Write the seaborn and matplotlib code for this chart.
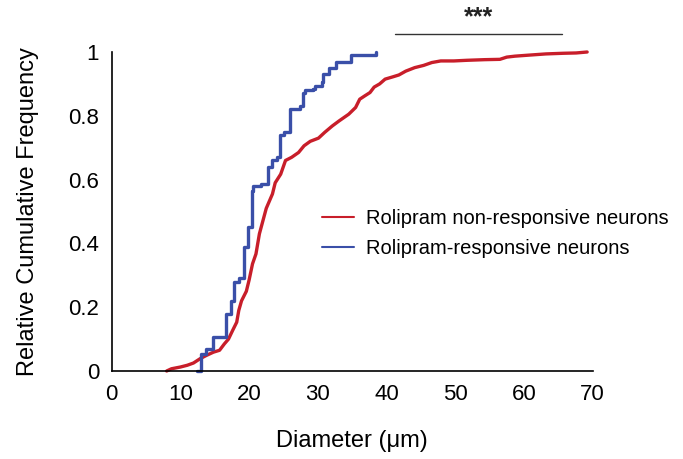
import numpy as np
import pandas as pd
import matplotlib
matplotlib.use("Agg")
import matplotlib.pyplot as plt
import seaborn as sns

# cumulative frequency curves (diameter in um, fraction)
blue_x = [12.4, 13.0, 13.8, 14.8, 16.1, 16.6, 17.3, 17.8, 18.5, 19.2, 19.9, 20.4,
          20.6, 21.8, 22.7, 23.4, 24.0, 24.5, 25.1, 26.0, 27.4, 27.8, 28.2, 29.3,
          29.6, 30.6, 30.8, 31.7, 32.7, 34.8, 38.3, 38.5]
blue_y = [0.0, 0.054, 0.07, 0.106, 0.106, 0.18, 0.22, 0.28, 0.29, 0.39, 0.45, 0.565,
          0.58, 0.585, 0.64, 0.66, 0.67, 0.74, 0.75, 0.82, 0.83, 0.87, 0.88, 0.885,
          0.895, 0.905, 0.93, 0.95, 0.97, 0.99, 0.99, 1.0]

red_x = [8.0, 8.7, 10.0, 11.0, 11.9, 12.9, 13.8, 14.8, 15.7, 16.4, 17.0, 17.6,
         18.2, 18.5, 18.9, 19.6, 20.0, 20.5, 21.0, 21.5, 22.0, 22.5, 23.4, 23.8,
         24.6, 25.3, 26.2, 27.2, 28.0, 28.9, 30.1, 31.0, 32.1, 33.1, 34.5, 35.5,
         36.1, 36.8, 37.6, 38.2, 39.0, 39.8, 40.9, 41.8, 42.8, 44.1, 45.4, 46.6,
         47.9, 49.8, 51.7, 54.3, 56.5, 57.5, 58.7, 60.6, 63.2, 65.7, 67.6, 69.2]
red_y = [0.0, 0.007, 0.0125, 0.018, 0.025, 0.039, 0.049, 0.059, 0.065, 0.085, 0.10,
         0.127, 0.153, 0.19, 0.22, 0.25, 0.285, 0.336, 0.367, 0.43, 0.47, 0.51,
         0.555, 0.59, 0.617, 0.66, 0.67, 0.685, 0.706, 0.72, 0.73, 0.748, 0.768,
         0.784, 0.805, 0.826, 0.852, 0.862, 0.873, 0.89, 0.90, 0.915, 0.922, 0.928,
         0.94, 0.951, 0.958, 0.967, 0.972, 0.972, 0.974, 0.976, 0.977, 0.984,
         0.987, 0.99, 0.994, 0.996, 0.997, 1.0]

red_label = "Rolipram non-responsive neurons"
blue_label = "Rolipram-responsive neurons"
red_color = "#C81E2A"
blue_color = "#3A4FA8"

x_ticks = [0, 10, 20, 30, 40, 50, 60, 70]
y_ticks = [0, 0.2, 0.4, 0.6, 0.8, 1]
y_tick_labels = ["0", "0.2", "0.4", "0.6", "0.8", "1"]

sig_x = [41.2, 65.5]
sig_y = 1.056
sig_text = "***"

sns.set_style("white")
plt.rcParams["font.family"] = ["Liberation Sans", "DejaVu Sans"]
plt.rcParams["text.color"] = "black"
plt.rcParams["axes.labelcolor"] = "black"

fig = plt.figure(figsize=(6.83, 4.59), dpi=100)
ax = fig.add_axes([0.1635, 0.1917, 0.7042, 0.695])

red_df = pd.DataFrame({"x": red_x, "y": red_y, "group": red_label})
blue_df = pd.DataFrame({"x": blue_x, "y": blue_y, "group": blue_label})

sns.lineplot(data=red_df, x="x", y="y", hue="group", palette=[red_color],
             estimator=None, sort=False, linewidth=2.4, ax=ax, clip_on=False)
sns.lineplot(data=blue_df, x="x", y="y", hue="group", palette=[blue_color],
             estimator=None, sort=False, linewidth=2.4, drawstyle="steps-post",
             ax=ax, clip_on=False)

ax.set_xlim(0, 70)
ax.set_ylim(0, 1)
ax.set_xticks(x_ticks)
ax.set_yticks(y_ticks)
ax.set_yticklabels(y_tick_labels)
ax.tick_params(axis="both", direction="out", length=5, width=1.0,
               labelsize=16, color="black", labelcolor="black", pad=4)
for side in ["top", "right"]:
    ax.spines[side].set_visible(False)
for side in ["left", "bottom"]:
    ax.spines[side].set_color("black")
    ax.spines[side].set_linewidth(1.2)

ax.set_xlabel("Diameter (\u03bcm)", fontsize=17, labelpad=18)
ax.set_ylabel("Relative Cumulative Frequency", fontsize=17, labelpad=21)

# significance bar
ax.plot(sig_x, [sig_y, sig_y], color="#333333", linewidth=1.0, clip_on=False)
ax.text(np.mean(sig_x), sig_y + 0.015, sig_text, ha="center", va="bottom",
        fontsize=18, fontweight="bold", color="#222222")

handles, labels = ax.get_legend_handles_labels()
leg = ax.legend(handles, labels, loc="center left", bbox_to_anchor=(0.4, 0.43),
                frameon=False, fontsize=14.5, handlelength=1.6, handletextpad=0.6,
                labelspacing=0.55)
for line in leg.get_lines():
    line.set_linewidth(1.5)

fig.savefig("out.png", dpi=100)
